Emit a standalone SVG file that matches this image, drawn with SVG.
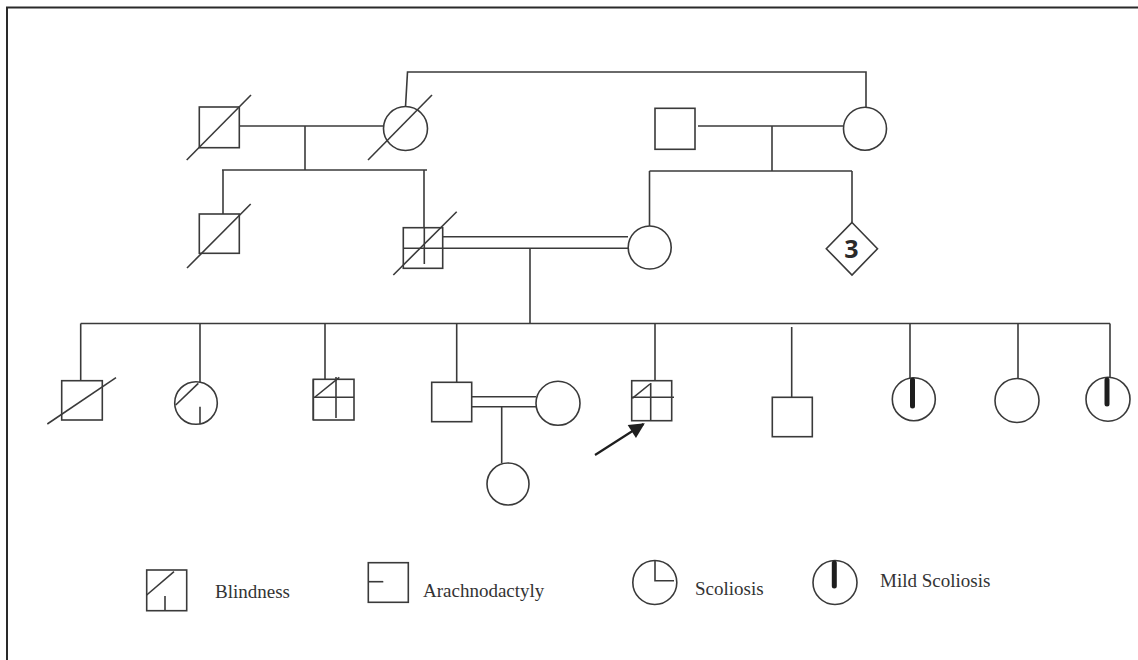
<svg xmlns="http://www.w3.org/2000/svg" width="1138" height="660" viewBox="0 0 1138 660">
  <defs>
    <style>
      .ln { fill: none; stroke: #3a3a3a; stroke-width: 1.6; }
      .sym { fill: #fff; stroke: #3a3a3a; stroke-width: 1.6; }
      .bar { fill: none; stroke: #1e1e1e; stroke-width: 5; stroke-linecap: round; }
      .lbl { font-family: "Liberation Serif", "Times New Roman", serif; font-size: 19px; fill: #333; }
      .num { font-family: "Open Sans", "DejaVu Sans", sans-serif; font-size: 25px; font-weight: bold; fill: #2a2a2a; }
    </style>
    <marker id="arrowhead" viewBox="0 0 10 10" refX="9" refY="5" markerWidth="7.5" markerHeight="7" orient="auto" markerUnits="strokeWidth">
      <path d="M0,0 L10,5 L0,10 z" fill="#1e1e1e"/>
    </marker>
  </defs>

  <rect width="1138" height="660" fill="#fff"/>
  <!-- frame (left and top edges) -->
  <path d="M7,660 V7.5 H1138" fill="none" stroke="#2a2a2a" stroke-width="2"/>

  <!-- connectors -->
  <g id="connectors" class="ln">
    <!-- generation I, left couple -->
    <line x1="239" y1="126" x2="384" y2="126"/>
    <line x1="305" y1="126" x2="305" y2="170"/>
    <line x1="222" y1="170" x2="427" y2="170"/>
    <line x1="223" y1="170" x2="223" y2="214"/>
    <line x1="424" y1="170" x2="424" y2="228"/>
    <!-- link between the two grandmothers -->
    <path d="M405.5,107 L407.5,72 H866 V107"/>
    <!-- generation I, right couple -->
    <line x1="698" y1="126" x2="843" y2="126"/>
    <line x1="772" y1="126" x2="772" y2="171"/>
    <line x1="649.5" y1="171" x2="852" y2="171"/>
    <line x1="649.5" y1="171" x2="649.5" y2="226.5"/>
    <line x1="852" y1="171" x2="852" y2="222.5"/>
    <!-- consanguineous marriage, generation II -->
    <line x1="443" y1="236.7" x2="628" y2="236.7"/>
    <line x1="443" y1="248.3" x2="628" y2="248.3"/>
    <line x1="530" y1="248.3" x2="530" y2="323.5"/>
    <!-- generation III sibship -->
    <line x1="80.7" y1="323.5" x2="1110" y2="323.5"/>
    <line x1="80.7" y1="323.5" x2="80.7" y2="381"/>
    <line x1="200" y1="323.5" x2="200" y2="382.5"/>
    <line x1="325" y1="323.5" x2="325" y2="379.5"/>
    <line x1="456.7" y1="323.5" x2="456.7" y2="382.5"/>
    <line x1="655" y1="323.5" x2="655" y2="381"/>
    <line x1="791.7" y1="327" x2="791.7" y2="400"/>
    <line x1="910" y1="323.5" x2="910" y2="378.5"/>
    <line x1="1018" y1="323.5" x2="1018" y2="380"/>
    <line x1="1110" y1="323.5" x2="1110" y2="378.5"/>
    <!-- consanguineous marriage, generation III -->
    <line x1="471.7" y1="396.7" x2="536" y2="396.7"/>
    <line x1="471.7" y1="406.7" x2="536" y2="406.7"/>
    <line x1="501.7" y1="406.7" x2="501.7" y2="463.3"/>
    <!-- proband arrow -->
    <line x1="595" y1="455" x2="643.5" y2="424" stroke="#1e1e1e" stroke-width="2.2" marker-end="url(#arrowhead)"/>
  </g>

  <!-- generation I -->
  <g id="I-1">
    <rect class="sym" x="199.3" y="107" width="40" height="40.7"/>
    <line class="ln" x1="186.7" y1="160" x2="251" y2="95"/>
  </g>
  <g id="I-2">
    <circle class="sym" cx="405.5" cy="128.5" r="22"/>
    <line class="ln" x1="368" y1="160" x2="432" y2="95"/>
  </g>
  <g id="I-3">
    <rect class="sym" x="655" y="108.3" width="40" height="41"/>
  </g>
  <g id="I-4">
    <circle class="sym" cx="865" cy="128.7" r="21.5"/>
  </g>

  <!-- generation II -->
  <g id="II-1">
    <rect class="sym" x="199.3" y="214" width="40" height="39.3"/>
    <line class="ln" x1="187" y1="268" x2="250.7" y2="204"/>
  </g>
  <g id="II-2">
    <rect class="sym" x="403.3" y="227.7" width="39.4" height="40.6"/>
    <line class="ln" x1="424.3" y1="227.7" x2="424.3" y2="264"/>
    <line class="ln" x1="403.3" y1="248.3" x2="442.7" y2="248.3"/>
    <line class="ln" x1="393.3" y1="275" x2="456.7" y2="211.7"/>
  </g>
  <g id="II-3">
    <circle class="sym" cx="649.7" cy="247.5" r="21.5"/>
  </g>
  <g id="II-4">
    <polygon class="sym" points="852,222.5 877.5,248.7 852,275 826.3,248.7"/>
    <text class="num" x="851.5" y="257.5" text-anchor="middle">3</text>
  </g>

  <!-- generation III -->
  <g id="III-1">
    <rect class="sym" x="61.7" y="380.7" width="40.6" height="39.3"/>
    <line class="ln" x1="47.3" y1="424" x2="116" y2="377.7"/>
  </g>
  <g id="III-2">
    <circle class="sym" cx="196" cy="403" r="21.3"/>
    <line class="ln" x1="175.7" y1="405" x2="198.3" y2="383.3"/>
    <line class="ln" x1="200" y1="406.7" x2="200" y2="424"/>
  </g>
  <g id="III-3">
    <rect class="sym" x="313.3" y="379.3" width="40.7" height="40.7"/>
    <line class="ln" x1="313.3" y1="397.3" x2="354" y2="397.3"/>
    <line class="ln" x1="336" y1="377" x2="336" y2="418"/>
    <line class="ln" x1="315" y1="397" x2="339.3" y2="377.3"/>
    <line class="ln" x1="313.3" y1="379.3" x2="313.3" y2="420" stroke-width="2.4"/>
  </g>
  <g id="III-4">
    <rect class="sym" x="431.7" y="382.3" width="40" height="39.4"/>
  </g>
  <g id="III-5">
    <circle class="sym" cx="558" cy="403.3" r="22"/>
  </g>
  <g id="III-6">
    <rect class="sym" x="631.7" y="380.7" width="40" height="40"/>
    <line class="ln" x1="631.7" y1="397.3" x2="674" y2="397.3"/>
    <line class="ln" x1="650.7" y1="383" x2="650.7" y2="420.7"/>
    <line class="ln" x1="632.3" y1="398.3" x2="650" y2="384"/>
  </g>
  <g id="III-7">
    <rect class="sym" x="772.3" y="397.3" width="40" height="39.4"/>
  </g>
  <g id="III-8">
    <circle class="sym" cx="913.8" cy="399.2" r="21.5"/>
    <line class="bar" x1="912.5" y1="380" x2="912.5" y2="406"/>
  </g>
  <g id="III-9">
    <circle class="sym" cx="1017" cy="400.5" r="22"/>
  </g>
  <g id="III-10">
    <circle class="sym" cx="1108" cy="399.2" r="22"/>
    <line class="bar" x1="1107" y1="380" x2="1107" y2="404"/>
  </g>

  <!-- generation IV -->
  <g id="IV-1">
    <circle class="sym" cx="508" cy="484" r="21"/>
  </g>

  <!-- legend -->
  <g id="legend-blindness">
    <rect class="sym" x="146.7" y="570" width="40" height="40.7"/>
    <line class="ln" x1="146.7" y1="595" x2="174" y2="571.7"/>
    <line class="ln" x1="165" y1="596" x2="165" y2="610.7"/>
    <text class="lbl" x="215" y="598">Blindness</text>
  </g>
  <g id="legend-arachnodactyly">
    <rect class="sym" x="368.3" y="562.7" width="40" height="39.6"/>
    <line class="ln" x1="368.3" y1="581.7" x2="383.3" y2="581.7"/>
    <text class="lbl" x="423" y="597">Arachnodactyly</text>
  </g>
  <g id="legend-scoliosis">
    <circle class="sym" cx="654.8" cy="582.5" r="22"/>
    <path class="ln" d="M655,561 V580.7 H674"/>
    <text class="lbl" x="695" y="595">Scoliosis</text>
  </g>
  <g id="legend-mild-scoliosis">
    <circle class="sym" cx="835" cy="582.5" r="22"/>
    <line class="bar" x1="834.3" y1="563" x2="834.3" y2="586"/>
    <text class="lbl" x="880" y="587">Mild Scoliosis</text>
  </g>
</svg>
